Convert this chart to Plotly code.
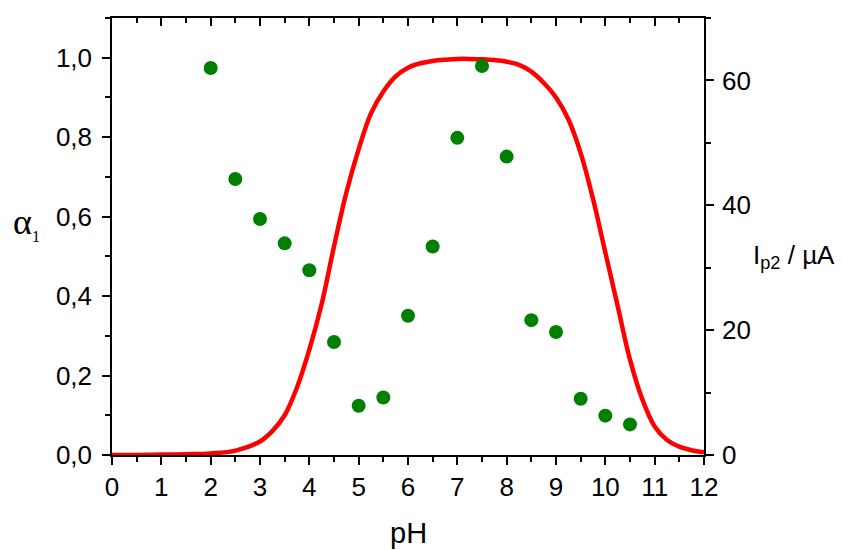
import plotly.graph_objects as go

# Fraction alpha_1 of the monoprotonated species versus pH (smooth curve)
ph_curve = [0.0, 0.5, 1.0, 1.5, 2.0, 2.5, 3.0, 3.25, 3.5, 3.75, 4.0, 4.25, 4.5,
            4.75, 5.0, 5.25, 5.5, 5.75, 6.0, 6.25, 6.5, 6.75, 7.0, 7.25, 7.5,
            7.75, 8.0, 8.25, 8.5, 8.75, 9.0, 9.25, 9.5, 9.75, 10.0, 10.25,
            10.5, 10.75, 11.0, 11.25, 11.5, 11.75, 12.0]
alpha1 = [0.0, 0.0, 0.001, 0.002, 0.004, 0.011, 0.034, 0.06, 0.10, 0.17, 0.265,
          0.38, 0.525, 0.66, 0.77, 0.86, 0.915, 0.953, 0.975, 0.986, 0.992,
          0.995, 0.997, 0.997, 0.996, 0.994, 0.99, 0.982, 0.965, 0.937, 0.90,
          0.845, 0.76, 0.645, 0.51, 0.375, 0.24, 0.14, 0.072, 0.038, 0.021,
          0.012, 0.007]

# Peak current Ip2 (µA) measured at each pH
ph_points = [2.0, 2.5, 3.0, 3.5, 4.0, 4.5, 5.0, 5.5, 6.0, 6.5, 7.0, 7.5, 8.0,
             8.5, 9.0, 9.5, 10.0, 10.5]
ip2_uA = [62.0, 44.2, 37.8, 33.9, 29.6, 18.1, 7.9, 9.2, 22.3, 33.4, 50.8, 62.3,
          47.8, 21.6, 19.7, 9.0, 6.3, 4.9]

x_ticks = list(range(0, 13))
alpha_ticks = [0.0, 0.2, 0.4, 0.6, 0.8, 1.0]
ip_ticks = [0, 20, 40, 60]

FONT = "Arial, Liberation Sans, sans-serif"
TICK_FONT = dict(family=FONT, size=26, color="black")

fig = go.Figure()

fig.add_trace(go.Scatter(
    x=ph_curve, y=alpha1, mode="lines",
    line=dict(color="#ff0000", width=4.5, shape="spline", smoothing=1.0),
    yaxis="y", xaxis="x", showlegend=False, cliponaxis=True,
))

fig.add_trace(go.Scatter(
    x=ph_points, y=ip2_uA, mode="markers",
    marker=dict(color="#008000", size=14, line=dict(width=0)),
    yaxis="y2", xaxis="x", showlegend=False,
))

# keep the top axis present so its frame and inward ticks are drawn
fig.add_trace(go.Scatter(x=[None], y=[None], xaxis="x2", yaxis="y",
                         showlegend=False, hoverinfo="skip"))

axis_common = dict(
    showgrid=False, zeroline=False, showline=True, linecolor="black",
    linewidth=1.5, tickcolor="black", tickwidth=1.5,
)

fig.update_layout(
    width=842, height=550,
    margin=dict(l=112, r=138, t=18, b=95),
    paper_bgcolor="white", plot_bgcolor="white",
    separators=",.",
    xaxis=dict(
        range=[0, 12], tickvals=x_ticks, ticks="outside", ticklen=8,
        minor=dict(dtick=0.5, tick0=0, ticks="outside", ticklen=5,
                   tickcolor="black", tickwidth=1.5),
        tickfont=TICK_FONT, ticklabelstandoff=0, **axis_common,
    ),
    xaxis2=dict(
        range=[0, 12], overlaying="x", side="top", tickvals=x_ticks,
        ticks="inside", ticklen=8, showticklabels=False,
        minor=dict(dtick=0.5, tick0=0, ticks="inside", ticklen=5,
                   tickcolor="black", tickwidth=1.5),
        **axis_common,
    ),
    yaxis=dict(
        range=[0, 1.1], tickvals=alpha_ticks, tickformat=".1f",
        ticks="outside", ticklen=8,
        minor=dict(dtick=0.1, tick0=0, ticks="outside", ticklen=5,
                   tickcolor="black", tickwidth=1.5),
        tickfont=TICK_FONT, ticklabelstandoff=5, **axis_common,
    ),
    yaxis2=dict(
        range=[0, 70], overlaying="y", side="right", tickvals=ip_ticks,
        ticks="outside", ticklen=8,
        minor=dict(dtick=10, tick0=0, ticks="outside", ticklen=5,
                   tickcolor="black", tickwidth=1.5),
        tickfont=TICK_FONT, ticklabelstandoff=3, **axis_common,
    ),
)

fig.add_annotation(
    text="α<sub><span style='font-size:16px'>1</span></sub>",
    xref="paper", yref="paper",
    x=-0.170, y=0.53, xanchor="left", yanchor="middle", showarrow=False,
    font=dict(family="Liberation Serif, Times New Roman, serif", size=36,
              color="black"),
)
fig.add_annotation(
    text="I<sub>p2</sub> / µA", xref="paper", yref="paper",
    x=1.080, y=0.455, xanchor="left", yanchor="middle", showarrow=False,
    font=dict(family=FONT, size=26, color="black"),
)
fig.add_annotation(
    text="pH", xref="paper", yref="paper",
    x=0.5, y=-0.178, xanchor="center", yanchor="middle", showarrow=False,
    font=dict(family=FONT, size=29, color="black"),
)

fig.write_html("out.html")
